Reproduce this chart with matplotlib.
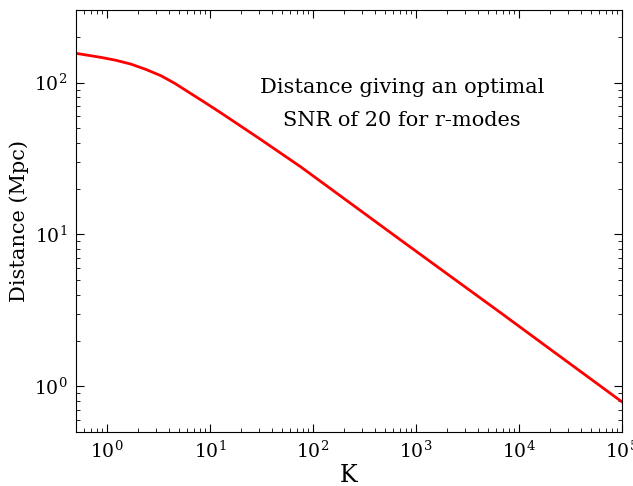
import matplotlib
matplotlib.use("Agg")
import matplotlib.pyplot as plt

plt.rcParams['font.family'] = ['DejaVu Serif']
plt.rcParams['mathtext.fontset'] = 'dejavuserif'

# optimal-SNR distance vs K
K = [0.5, 0.88, 1.22, 1.7, 2.39, 3.34, 4.56, 6.23, 8.91, 12.7, 31, 76,
     230, 700, 2150, 6600, 20000, 1e5]
dist = [156, 146.6, 140.4, 132.6, 122.2, 111.1, 98.9, 86.4, 74.1, 63.4,
        42.3, 27.9, 16.1, 9.26, 5.32, 3.06, 1.76, 0.79]

fig = plt.figure(figsize=(6.33, 4.86), dpi=100)
ax = fig.add_axes([0.12, 0.111, 0.8626, 0.868])

ax.plot(K, dist, color='red', lw=2)
ax.set_xscale('log')
ax.set_yscale('log')
ax.set_xlim(0.5, 1e5)
ax.set_ylim(0.5, 300)

ax.set_xlabel('K', fontsize=17, labelpad=2)
ax.set_ylabel('Distance (Mpc)', fontsize=15)

ax.tick_params(which='both', direction='in', top=True, right=True,
               labelsize=13.5, pad=6)
ax.tick_params(which='major', length=6)
ax.tick_params(which='minor', length=3)

ax.text(0.597, 0.778, 'Distance giving an optimal\nSNR of 20 for r-modes',
        transform=ax.transAxes, ha='center', va='center', fontsize=15,
        linespacing=1.9)

fig.savefig('out.png', dpi=100)
